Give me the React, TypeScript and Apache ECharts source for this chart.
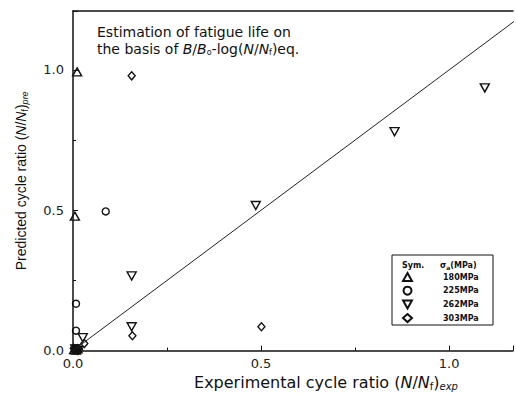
import React, { useEffect, useRef } from "react";
import * as echarts from "echarts";

const seriesNames = ["180MPa", "225MPa", "262MPa", "303MPa"];
const s180: number[][] = [
  [0.011, 0.993], [0.005, 0.479],
  [0.003, 0.004], [0.008, 0.002], [0.012, 0.006],
];
const s225: number[][] = [
  [0.087, 0.496], [0.008, 0.167], [0.008, 0.071],
  [0.005, 0.001], [0.01, 0.008], [0.015, 0.003],
];
const s262: number[][] = [
  [1.095, 0.936], [0.855, 0.78], [0.486, 0.517],
  [0.156, 0.266], [0.156, 0.085], [0.026, 0.046],
  [0.006, 0.006], [0.013, 0.001],
];
const s303: number[][] = [
  [0.156, 0.979], [0.158, 0.053], [0.501, 0.085], [0.03, 0.025],
  [0.002, 0.008], [0.009, 0.004], [0.016, 0.006],
];
const refLine: number[][] = [[0, 0], [1.2, 1.2]];
const xTicks = [0, 0.5, 1.0];
const yTicks = [0, 0.5, 1.0];

const INK = "#111";
const FONT = "DejaVu Sans";

const symbols = [
  "path://M5,0L10,9L0,9Z",
  "circle",
  "path://M0,0L10,0L5,9Z",
  "diamond",
];
const sizes: any[] = [[9, 8], 7, [9, 8], [7, 8]];

export default function App() {
  const ref = useRef<HTMLDivElement>(null);
  useEffect(() => {
    if (!ref.current) return;
    const chart = echarts.init(ref.current, undefined, { renderer: "svg" });
    const datasets = [s180, s225, s262, s303];
    const sub = { fontSize: 10, fontFamily: FONT, color: INK, padding: [7, 0, 0, 0] };
    const subI = { ...sub, fontStyle: "italic" };
    const fmt = (v: number) => (xTicks.includes(v) || yTicks.includes(v) ? v.toFixed(1) : "");
    chart.setOption({
      animation: false,
      grid: { left: 73, right: 0, top: 11, bottom: 44, containLabel: false },
      xAxis: [
        {
          type: "value",
          min: 0,
          max: 1.17,
          interval: 0.5,
          splitNumber: 2,
          name: "{n|Experimental cycle ratio (}{i|N}{n|/}{i|N}{s|f}{n|)}{si|exp}",
          nameLocation: "middle",
          nameGap: 22,
          nameTextStyle: {
            padding: [0, 0, 0, 66],
            rich: {
              n: { fontSize: 16, fontFamily: FONT, color: INK },
              i: { fontSize: 16, fontFamily: FONT, color: INK, fontStyle: "italic" },
              s: sub,
              si: subI,
            },
          },
          axisLine: { show: true, onZero: false, lineStyle: { color: INK, width: 1.5 } },
          axisTick: { show: true, inside: true, length: 5, lineStyle: { color: INK } },
          minorTick: { show: true, splitNumber: 2, length: 3, lineStyle: { color: INK } },
          splitLine: { show: false },
          axisLabel: { formatter: fmt, color: "#222", fontSize: 13, fontFamily: FONT, margin: 6 },
        },
        {
          type: "value",
          position: "top",
          min: 0,
          max: 1.17,
          axisLine: { show: true, onZero: false, lineStyle: { color: INK, width: 1.5 } },
          axisTick: { show: false },
          axisLabel: { show: false },
          splitLine: { show: false },
        },
      ],
      yAxis: {
        type: "value",
        min: 0,
        max: 1.21,
        interval: 0.5,
        name: "{n|Predicted cycle ratio (}{i|N}{n|/}{i|N}{s|f}{n|)}{si|pre}",
        nameLocation: "middle",
        nameGap: 44,
        nameTextStyle: {
          rich: {
            n: { fontSize: 14, fontFamily: "Liberation Sans", color: INK },
            i: { fontSize: 14, fontFamily: "Liberation Sans", color: INK, fontStyle: "italic" },
            s: { ...sub, fontFamily: "Liberation Sans", fontSize: 9 },
            si: { ...subI, fontFamily: "Liberation Sans", fontSize: 9 },
          },
        },
        axisLine: { show: true, onZero: false, lineStyle: { color: INK, width: 1.5 } },
        axisTick: { show: true, inside: true, length: 5, lineStyle: { color: INK } },
        minorTick: { show: true, splitNumber: 2, length: 3, lineStyle: { color: INK } },
        splitLine: { show: false },
        axisLabel: { formatter: fmt, color: "#222", fontSize: 13, fontFamily: FONT, margin: 9 },
      },
      legend: {
        orient: "vertical",
        left: 402,
        top: 272,
        padding: 0,
        itemWidth: 9,
        itemHeight: 8,
        itemGap: 3.7,
        data: seriesNames,
        textStyle: {
          fontSize: 8,
          fontWeight: "bold",
          fontFamily: FONT,
          color: INK,
          lineHeight: 9,
          padding: [0, 0, 0, 26],
        },
      },
      graphic: [
        {
          type: "rect",
          shape: { x: 392, y: 255, width: 101, height: 70 },
          style: { fill: "none", stroke: INK, lineWidth: 1 },
        },
        {
          type: "text",
          x: 402,
          y: 265,
          style: {
            text: "Sym.",
            font: `bold 8px "${FONT}"`,
            fill: INK,
            verticalAlign: "middle",
          },
        },
        {
          type: "text",
          x: 440,
          y: 265,
          style: {
            text: "{g|σ}{s|a}{g|(MPa)}",
            verticalAlign: "middle",
            rich: {
              g: { fontSize: 8, fontWeight: "bold", fontFamily: FONT, fill: INK },
              s: { fontSize: 6, fontWeight: "bold", fontFamily: FONT, fill: INK, padding: [4, 0, 0, 0] },
            },
          },
        },
        {
          type: "text",
          x: 97,
          y: 32,
          style: {
            text: "Estimation of fatigue life on",
            font: `14px "${FONT}"`,
            fill: INK,
            verticalAlign: "middle",
          },
        },
        {
          type: "text",
          x: 97,
          y: 49,
          style: {
            text: "{n|the basis of }{i|B}{n|/}{i|B}{s|o}{n|-log(}{i|N}{n|/}{i|N}{s|f}{n|)eq.}",
            verticalAlign: "middle",
            rich: {
              n: { fontSize: 14, fontFamily: FONT, fill: INK },
              i: { fontSize: 14, fontFamily: FONT, fill: INK, fontStyle: "italic" },
              s: { fontSize: 8, fontFamily: FONT, fill: INK, padding: [7, 0, 0, 0] },
            },
          },
        },
      ],
      series: [
        ...datasets.map((d, k) => ({
          type: "scatter",
          name: seriesNames[k],
          data: d,
          symbol: symbols[k],
          symbolSize: sizes[k],
          itemStyle: { color: "rgba(255,255,255,0)", borderColor: INK, borderWidth: 1.4, opacity: 1 },
          emphasis: { disabled: true },
        })),
        {
          type: "line",
          name: "y=x",
          data: refLine,
          symbol: "none",
          clip: true,
          lineStyle: { color: "#222", width: 1 },
          silent: true,
        },
      ],
    });
    return () => chart.dispose();
  }, []);
  return (
    <div
      ref={ref}
      style={{ position: "absolute", left: 0, top: 0, width: 516, height: 396, background: "#fff" }}
    />
  );
}
